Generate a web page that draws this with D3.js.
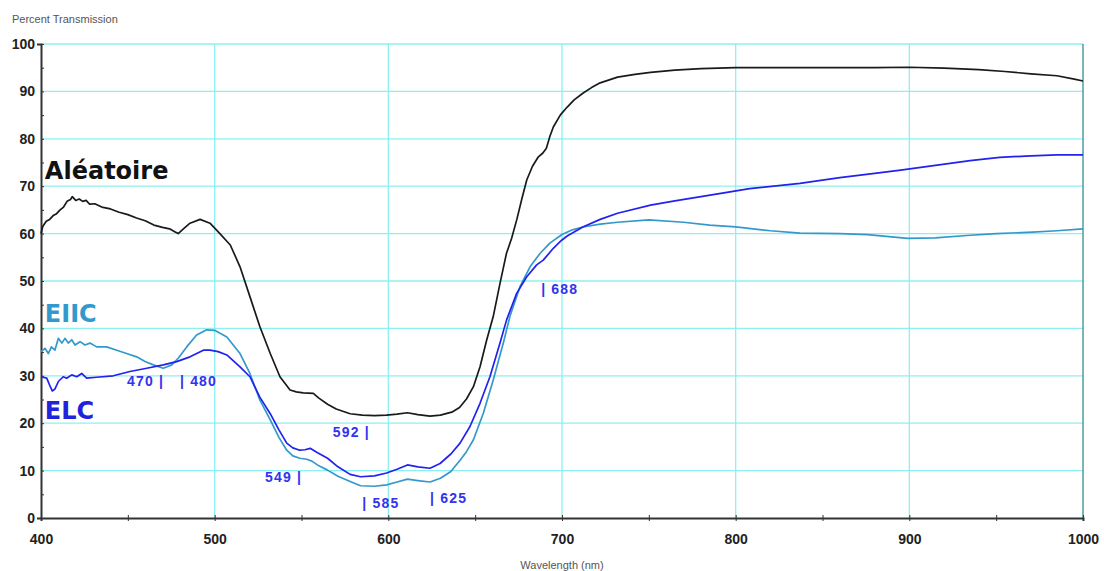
<!DOCTYPE html>
<html><head><meta charset="utf-8">
<script src="https://cdn.jsdelivr.net/npm/d3@7"></script>
<style>body{margin:0;background:#fff}svg{display:block}</style>
</head><body>
<svg id="c" width="1104" height="571"></svg>
<script>
const xTicks = [400,500,600,700,800,900,1000];
const yTicks = [0,10,20,30,40,50,60,70,80,90,100];

const aleatoire = [[400,60],[401,61.5],[403,62.6],[405,63],[407,63.8],[409,64.2],[411,65],[413,65.6],[415,66.8],[417,67.2],[418,67.8],[420,67],[422,67.3],[424,66.8],[426,67],[428,66.2],[431,66.3],[435,65.6],[440,65.2],[445,64.5],[450,64],[455,63.3],[460,62.7],[465,61.8],[470,61.3],[474,61],[477,60.4],[479,60],[482,61],[485.8,62.2],[491.6,63],[497.3,62.2],[503,60],[509,57.6],[514.6,53],[520.3,46.7],[526,40.4],[532,34.7],[537.6,29.8],[543.4,27],[547,26.6],[551,26.4],[556.8,26.3],[560,25.3],[565,24],[570,23],[578,22],[585,21.7],[592,21.6],[599,21.7],[605,21.9],[611,22.2],[617,21.8],[624,21.5],[630,21.7],[637,22.4],[641,23.3],[645,25.1],[649,27.7],[652.8,31.9],[656.6,37.5],[660.4,42.5],[664.3,49.5],[668,55.8],[671,59],[674,63],[677,67.5],[679.7,71.3],[683,74.2],[686.4,76.2],[689,77],[691,78],[693,80.5],[695,82.5],[699,85],[703,86.7],[707,88.2],[712,89.6],[717,90.8],[722,91.8],[732,93],[742,93.6],[751,94],[765,94.5],[780,94.8],[800,95],[830,95],[860,95],[880,95],[900,95.1],[920,94.9],[940,94.6],[955,94.2],[970,93.7],[985,93.3],[995,92.6],[1000,92.2]];

const eiic = [[400,35.1],[402.3,35.8],[404.2,34.7],[406,36.1],[408,35.4],[410,37.9],[412,36.9],[413.8,37.9],[415.7,36.9],[417.7,37.6],[419.6,36.5],[422.5,37.2],[425.3,36.5],[428.2,36.9],[432,36.1],[437.8,36.1],[443.6,35.4],[449.3,34.7],[455.1,34],[459.9,33],[464.7,32.3],[470.4,31.6],[475.3,32.3],[479,33.7],[483.9,36.1],[489.6,38.6],[495.4,39.7],[500,39.6],[507,38.2],[514.6,34.7],[520.3,30.5],[526,24.9],[532,20.7],[537,17],[541.5,14.3],[545,13.1],[549,12.6],[553,12.4],[556,12],[560,11],[565,10.1],[571,8.8],[578,7.7],[584,6.8],[592,6.7],[599,7],[605,7.6],[611,8.2],[617,7.9],[624,7.6],[630,8.4],[636,9.8],[641.3,12.2],[645,14],[649,16.5],[654.7,22.1],[660.4,29.1],[666.2,36.9],[670,42.5],[675.8,48.8],[681.6,53],[687.3,55.8],[693,58],[700,59.8],[706,60.8],[712,61.4],[722,62],[732,62.4],[750,62.9],[770,62.4],[785,61.8],[800,61.4],[820,60.6],[837,60.1],[860,60],[876,59.8],[899,59],[915,59.1],[933,59.6],[950,60],[971,60.3],[985,60.6],[1000,61]];

const elc = [[400,29.8],[403.3,29.5],[405,28],[406.5,26.8],[408,27.2],[410,28.8],[412.8,29.8],[414.8,29.5],[417.7,30.2],[420.6,29.8],[423.4,30.5],[426.3,29.5],[432,29.7],[441.6,30],[451.2,30.9],[460.9,31.6],[470.4,32.3],[478.1,33],[485.8,34],[493.5,35.4],[497.3,35.4],[502,35.1],[507,34.4],[514.6,31.9],[520.3,29.8],[526,25.5],[532,22],[537,18.6],[541.5,15.8],[545,14.8],[549,14.3],[552,14.4],[555,14.7],[559,13.8],[565,12.6],[571,10.8],[578,9.2],[584,8.7],[592,8.9],[599,9.5],[605,10.3],[611,11.2],[617,10.8],[624,10.5],[629.8,11.5],[636,13.5],[641.3,15.8],[647,19.3],[652.8,24.2],[658.5,29.8],[664.3,36.9],[668.1,41.8],[673.9,47.4],[679.7,50.9],[685.4,53.4],[689.2,54.4],[695,56.9],[699.8,58.6],[703,59.5],[712,61.4],[722,63],[732,64.3],[751,66],[765,66.9],[780,67.8],[795,68.7],[808,69.5],[837,70.6],[860,71.8],[880,72.7],[895,73.4],[915,74.4],[935,75.4],[952,76.1],[970,76.4],[985,76.6],[1000,76.6]];

const seriesLabels = [
  {text:"Aléatoire", color:"#111111"},
  {text:"EIIC", color:"#3399cc"},
  {text:"ELC", color:"#2222dd"}
];
const peakLabels = ["470 |","| 480","549 |","592 |","| 585","| 625","| 688"];

const svg = d3.select("#c");
const x = d3.scaleLinear().domain([400,1000]).range([41,1083]);
const y = d3.scaleLinear().domain([0,100]).range([518,44]);

// grid
const grid = svg.append("g");
grid.selectAll("line.h").data(yTicks.filter(d=>d>0)).join("line")
  .attr("x1",x(400)).attr("x2",x(1000)).attr("y1",d=>y(d)).attr("y2",d=>y(d))
  .attr("stroke","#8cf0f2").attr("stroke-width",1.3);
grid.selectAll("line.v").data(xTicks.filter(d=>d>400 && d<1000)).join("line")
  .attr("x1",d=>x(d)).attr("x2",d=>x(d)).attr("y1",y(0)).attr("y2",y(100))
  .attr("stroke","#8cf0f2").attr("stroke-width",1.3);
grid.append("line").attr("x1",x(1000)).attr("x2",x(1000)).attr("y1",y(0)).attr("y2",y(100))
  .attr("stroke","#4f9c9c").attr("stroke-width",1.5);

// axes
const yAxis = svg.append("g").attr("transform",`translate(${x(400)},0)`)
  .call(d3.axisLeft(y).tickValues(d3.range(0,101,5)).tickSize(4).tickFormat(d=>d%10===0?d:""));
yAxis.select(".domain").attr("stroke","#333").attr("stroke-width",2);
yAxis.selectAll(".tick line").attr("x2",3).attr("stroke","#333");
yAxis.selectAll(".tick text").attr("x",-6).attr("font-family","Liberation Sans, Arial, sans-serif")
  .attr("font-weight","bold").attr("font-size",14).attr("fill","#222");

const xAxis = svg.append("g").attr("transform",`translate(0,${y(0)})`)
  .call(d3.axisBottom(x).tickValues(d3.range(400,1001,50)).tickSize(3).tickFormat(d=>d%100===0?d:""));
xAxis.select(".domain").attr("stroke","#333").attr("stroke-width",2);
xAxis.selectAll(".tick line").attr("y1",-3).attr("stroke","#333");
xAxis.selectAll(".tick text").attr("y",16).attr("font-family","Liberation Sans, Arial, sans-serif")
  .attr("font-weight","bold").attr("font-size",14).attr("fill","#222");

// titles
svg.append("text").attr("x",12).attr("y",23).text("Percent Transmission")
  .attr("font-family","Liberation Sans, Arial, sans-serif").attr("font-size",11).attr("fill","#555");
svg.append("text").attr("x",562).attr("y",569).attr("text-anchor","middle").text("Wavelength (nm)")
  .attr("font-family","Liberation Sans, Arial, sans-serif").attr("font-size",11).attr("fill","#555");

// lines
const line = d3.line().x(d=>x(d[0])).y(d=>y(d[1]));
const series = [[aleatoire,"#1a1a1a"],[eiic,"#3399cc"],[elc,"#2222ee"]];
svg.append("g").selectAll("path").data(series).join("path")
  .attr("d",d=>line(d[0])).attr("fill","none").attr("stroke",d=>d[1]).attr("stroke-width",1.7)
  .attr("stroke-linejoin","round");

// series labels
const slPos = [[400.5,71.5],[400.5,41.4],[400.5,20.9]];
svg.append("g").selectAll("text").data(seriesLabels).join("text")
  .attr("x",(d,i)=>x(slPos[i][0])+3).attr("y",(d,i)=>y(slPos[i][1]))
  .text(d=>d.text).attr("fill",d=>d.color)
  .attr("font-family","DejaVu Sans, Verdana, sans-serif").attr("font-weight","bold").attr("font-size",24);

// peak labels (position anchors in data units)
const plPos = [[449.5,27.8],[480,27.8],[529,7.6],[568,17],[585,2.1],[624,3.2],[688,47.3]];
svg.append("g").selectAll("text").data(peakLabels).join("text")
  .attr("x",(d,i)=>x(plPos[i][0])).attr("y",(d,i)=>y(plPos[i][1]))
  .text(d=>d).attr("fill","#3333ee").attr("letter-spacing",1.2)
  .attr("font-family","Liberation Sans, Arial, sans-serif").attr("font-weight","bold").attr("font-size",14);
</script>
</body></html>
